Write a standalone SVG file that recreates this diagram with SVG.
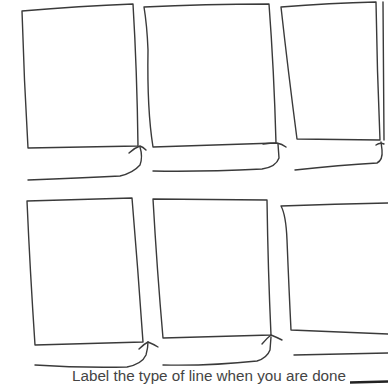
<svg xmlns="http://www.w3.org/2000/svg" width="388" height="384" viewBox="0 0 388 384">
<style>
.s{fill:none;stroke:#3a3a3a;stroke-width:1.4;stroke-linecap:round;stroke-linejoin:round}
.t{font-family:"Liberation Sans",Arial,sans-serif;font-size:14px;fill:#444}
</style>
<rect width="388" height="384" fill="#ffffff"/>
<g id="frame1"><path class="s" d="M22,11 Q80,6 133,4 Q137,70 138,146 L28,148 Q24,80 22,11 Z"/></g>
<g id="frame2"><path class="s" d="M144,7 Q205,4 269,4 Q274,70 276,143 L153,147 Q147,110 148,50 Q147,25 144,7"/></g>
<g id="frame3"><path class="s" d="M281,7 Q330,3 376,2 Q377,70 380,140 L297,139 Q288,70 281,7 Z"/><path class="s" d="M383,2 L384,140"/></g>
<g id="frame4"><path class="s" d="M27,201 L132,198 Q138,270 143,342 L35,345 Q30,270 27,201 Z"/></g>
<g id="frame5"><path class="s" d="M153,199 L267,200 Q268,270 271,335 L163,338 Q157,270 153,199 Z"/></g>
<g id="frame6"><path class="s" d="M281,206 Q335,204 388,203 M281,206 Q286,215 287,240 Q289,290 291,330 Q340,332 388,334"/></g>
<g id="connectors">
<path class="s" d="M28,180 Q80,178 120,176 Q133,173 140,165 Q143,157 140,147"/>
<path class="s" d="M129,153 Q134,148 140,146 Q143,147 146,150"/>
<path class="s" d="M153,171 Q200,172 262,169 Q276,167 279,158 L278,144"/>
<path class="s" d="M263,144 Q270,143 277,143 Q282,144 286,147"/>
<path class="s" d="M295,170 Q340,165 377,163 Q383,160 382,150 L381,142"/>
<path class="s" d="M376,145 Q380,142 384,144"/>
<path class="s" d="M35,365 Q80,368 127,367 Q142,364 146,355 Q148,348 148,342"/>
<path class="s" d="M139,349 Q144,344 148,342 Q153,344 158,347"/>
<path class="s" d="M163,365 Q210,366 257,361 Q267,358 270,350 L271,337"/>
<path class="s" d="M262,344 Q267,338 271,335 Q276,337 282,340"/>
<path class="s" d="M294,355 Q340,354 388,353"/>
</g>
<text class="t" x="72" y="380.5" textLength="274" lengthAdjust="spacingAndGlyphs">Label the type of line when you are done</text>
<path d="M350,382.5 L388,381.5" stroke="#222" stroke-width="2.5" fill="none"/>
</svg>
